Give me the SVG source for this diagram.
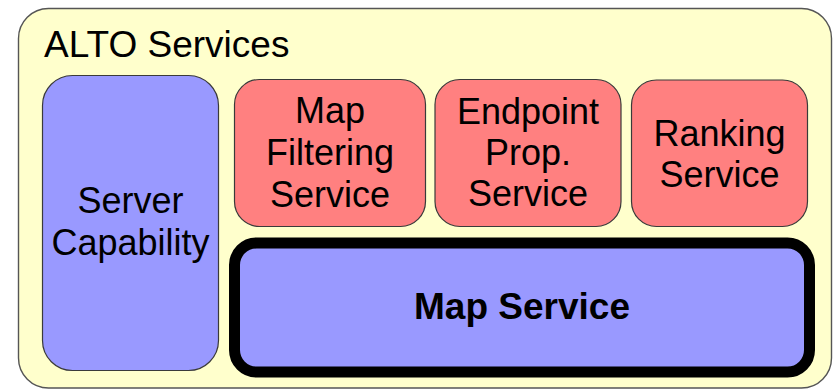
<svg xmlns="http://www.w3.org/2000/svg" width="833" height="390" viewBox="0 0 833 390">
  <style>
    .lbl { font-family: "Liberation Sans", Arimo, Arial, sans-serif; font-size: 36px; fill: #000; text-anchor: middle; }
    .title { font-family: "Liberation Sans", Arimo, Arial, sans-serif; font-size: 37px; fill: #000; }
    .bold { font-weight: bold; font-size: 37px; }
    .svc { fill: #ff8080; stroke: #3a3a3a; stroke-width: 1.2; }
    .blue { fill: #9999ff; stroke: #3a3a3a; stroke-width: 1.2; }
  </style>
  <rect width="833" height="390" fill="#ffffff"/>

  <g id="alto-services">
    <rect x="18.5" y="8.5" width="813" height="379.5" rx="30" ry="30" fill="#ffffcc" stroke="#555555" stroke-width="1.4"/>
    <text class="title" x="44" y="57">ALTO Services</text>
  </g>

  <g id="server-capability">
    <rect class="blue" x="42.5" y="75.5" width="176" height="295" rx="30" ry="30"/>
    <text class="lbl" x="130.5" y="213">Server</text>
    <text class="lbl" x="130.5" y="255">Capability</text>
  </g>

  <g id="map-filtering-service">
    <rect class="svc" x="234.5" y="79.5" width="191" height="147" rx="25" ry="25"/>
    <text class="lbl" x="330" y="123">Map</text>
    <text class="lbl" x="330" y="165">Filtering</text>
    <text class="lbl" x="330" y="207">Service</text>
  </g>

  <g id="endpoint-prop-service">
    <rect class="svc" x="435" y="79.5" width="186" height="147" rx="25" ry="25"/>
    <text class="lbl" x="528" y="124">Endpoint</text>
    <text class="lbl" x="528" y="165">Prop.</text>
    <text class="lbl" x="528" y="206">Service</text>
  </g>

  <g id="ranking-service">
    <rect class="svc" x="631.5" y="80" width="176" height="146.5" rx="25" ry="25"/>
    <text class="lbl" x="719.5" y="146">Ranking</text>
    <text class="lbl" x="719.5" y="187">Service</text>
  </g>

  <g id="map-service">
    <rect x="234.5" y="243" width="575" height="129" rx="22" ry="22" fill="#9999ff" stroke="#000000" stroke-width="11"/>
    <text class="lbl bold" x="522" y="319">Map Service</text>
  </g>

  <g id="connectors"/>
</svg>
